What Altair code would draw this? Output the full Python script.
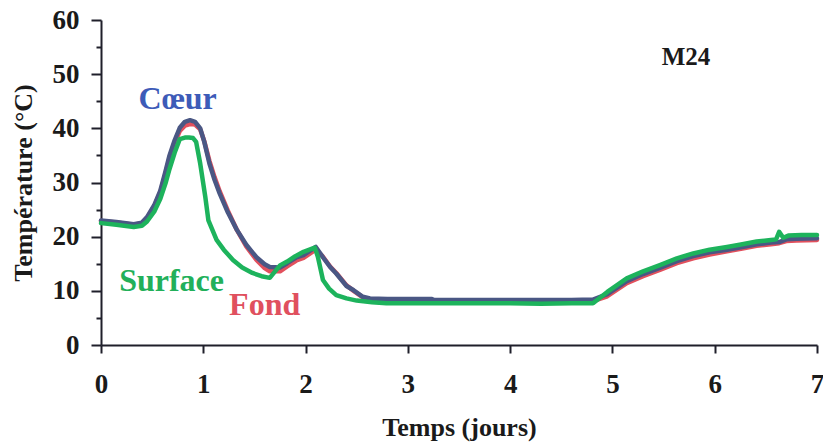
import altair as alt
import pandas as pd

# Temperature records (°C) over time (days) at three positions in the pile M24
coeur_t = [0, 0.15, 0.32, 0.4, 0.45, 0.52, 0.58, 0.63, 0.67, 0.72, 0.77, 0.82, 0.87, 0.92,
           0.97, 1.01, 1.06, 1.11, 1.16, 1.24, 1.33, 1.42, 1.52, 1.6, 1.65, 1.75, 1.82,
           1.91, 1.98, 2.1, 2.17, 2.24, 2.3, 2.4, 2.47, 2.56, 2.63, 2.8, 3.0, 3.23, 3.26,
           3.6, 4.0, 4.4, 4.6, 4.81, 4.95, 5.14, 5.3, 5.47, 5.63, 5.79, 5.95, 6.12, 6.27,
           6.41, 6.55, 6.63, 6.7, 6.8, 7.0]
coeur_v = [23.0, 22.7, 22.3, 22.6, 23.6, 25.8, 28.5, 32.0, 35.0, 37.8, 40.1, 41.2, 41.5, 41.2,
           40.0, 37.5, 33.5, 30.5, 28.0, 24.5, 21.2, 18.5, 16.2, 14.9, 14.4, 14.3, 15.1,
           16.2, 16.6, 18.1, 16.2, 14.4, 13.2, 10.9, 10.1, 8.9, 8.6, 8.5, 8.5, 8.5, 8.3,
           8.3, 8.3, 8.3, 8.3, 8.4, 9.4, 11.8, 13.1, 14.3, 15.5, 16.4, 17.1, 17.6, 18.1,
           18.6, 18.9, 19.0, 19.5, 19.6, 19.7]

fond_t = coeur_t
fond_v = [22.9, 22.6, 22.2, 22.5, 23.4, 25.6, 28.2, 31.6, 34.6, 37.3, 39.5, 40.5, 40.8, 40.7,
          39.8, 37.6, 34.0, 31.0, 28.4, 24.8, 21.2, 18.2, 15.7, 14.2, 13.6, 13.6, 14.5,
          15.6, 16.1, 17.6, 16.3, 14.5, 13.3, 11.0, 10.0, 8.8, 8.4, 8.3, 8.2, 8.2, 8.1,
          8.1, 8.1, 8.0, 8.0, 8.1, 9.0, 11.4, 12.7, 13.9, 15.1, 16.0, 16.7, 17.3, 17.8,
          18.3, 18.6, 18.8, 19.2, 19.3, 19.4]

surface_t = [0, 0.15, 0.32, 0.4, 0.45, 0.52, 0.58, 0.63, 0.67, 0.72, 0.77, 0.82, 0.86, 0.9,
             0.93, 0.97, 1.02, 1.05, 1.13, 1.2, 1.29, 1.38, 1.48, 1.57, 1.65, 1.75, 1.82,
             1.9, 1.98, 2.09, 2.12, 2.17, 2.23, 2.3, 2.4, 2.5, 2.65, 2.79, 3.0, 3.5, 4.0,
             4.3, 4.6, 4.81, 4.95, 5.14, 5.3, 5.47, 5.63, 5.79, 5.95, 6.12, 6.27, 6.41,
             6.55, 6.6, 6.63, 6.67, 6.72, 6.85, 7.0]
surface_v = [22.5, 22.2, 21.8, 22.0, 22.8, 24.6, 27.0, 29.8, 32.5, 35.5, 38.0, 38.3, 38.3, 38.2,
             37.5, 33.5, 27.3, 23.0, 19.4, 17.6, 15.7, 14.3, 13.3, 12.7, 12.4, 14.7, 15.4,
             16.4, 17.2, 18.0, 16.3, 12.0, 10.4, 9.2, 8.6, 8.2, 7.9, 7.7, 7.7, 7.7, 7.7,
             7.6, 7.7, 7.7, 9.8, 12.3, 13.6, 14.8, 16.0, 16.9, 17.6, 18.1, 18.6, 19.1,
             19.4, 19.5, 20.9, 19.8, 20.2, 20.3, 20.3]

series_names = ["Fond", "Cœur", "Surface"]
series_colors = ["#e2505d", "#4a5784", "#1db35c"]
series_data = [(fond_t, fond_v), (coeur_t, coeur_v), (surface_t, surface_v)]

# Inline labels: text, position (days, °C), colour
label_texts = ["Cœur", "Surface", "Fond"]
label_x = [0.75, 0.69, 1.6]
label_y = [45.5, 11.8, 7.4]
label_colors = ["#3d5bb8", "#22b05a", "#e0505e"]

panel_name = "M24"
panel_x = [5.72]
panel_y = [53.1]

FONT = "Liberation Serif"

x_scale = alt.Scale(domain=[0, 7], nice=False)
y_scale = alt.Scale(domain=[0, 60], nice=False)

x_axis = alt.Axis(
    title="Temps (jours)", values=list(range(0, 8)), format="d", labelFlush=False,
    labelFont=FONT, labelFontSize=27, labelFontWeight="bold", labelColor="#1a1a1a",
    labelPadding=18, tickSize=8, tickWidth=2, tickColor="#1f1f2a",
    domainColor="#1f1f2a", domainWidth=2, grid=False,
    titleFont=FONT, titleFontSize=26, titleFontWeight="bold", titleColor="#1a1a1a",
    titlePadding=17,
)
y_axis = alt.Axis(
    title="Température (°C)", values=list(range(0, 61, 5)), labelFlush=False,
    labelExpr="datum.value % 10 == 0 ? datum.label : ''",
    labelFont=FONT, labelFontSize=27, labelFontWeight="bold", labelColor="#1a1a1a",
    labelPadding=12, tickWidth=2, tickColor="#1f1f2a",
    tickSize={"condition": {"test": "datum.value % 10 == 0", "value": 10}, "value": 5},
    domainColor="#1f1f2a", domainWidth=2, grid=False,
    titleFont=FONT, titleFontSize=26, titleFontWeight="bold", titleColor="#1a1a1a",
    titlePadding=16,
)


def xy(xfield, yfield):
    return dict(
        x=alt.X(xfield, scale=x_scale, axis=x_axis),
        y=alt.Y(yfield, scale=y_scale, axis=y_axis),
    )


layers = []
for name, color, (ts, vs) in zip(series_names, series_colors, series_data):
    df = pd.DataFrame({"jours": ts, "temp": vs, "serie": name})
    layers.append(
        alt.Chart(df).mark_line(color=color, strokeWidth=4.5, strokeJoin="round",
                                strokeCap="round").encode(**xy("jours:Q", "temp:Q"))
    )

labels_df = pd.DataFrame({"txt": label_texts, "x": label_x, "y": label_y, "c": label_colors})
labels = alt.Chart(labels_df).mark_text(
    font=FONT, fontSize=32, fontWeight="bold", align="center", baseline="middle"
).encode(
    text="txt:N",
    color=alt.Color("c:N", scale=None),
    **xy("x:Q", "y:Q"),
)

panel_df = pd.DataFrame({"txt": [panel_name], "x": panel_x, "y": panel_y})
panel = alt.Chart(panel_df).mark_text(
    font=FONT, fontSize=25, fontWeight="bold", align="center", baseline="middle",
    color="#1a1a1a"
).encode(
    text="txt:N",
    **xy("x:Q", "y:Q"),
)

chart = alt.layer(*layers, labels, panel).properties(
    width=716, height=325,
    autosize=alt.AutoSizeParams(type="none"),
    padding={"left": 101, "top": 20, "right": 6, "bottom": 97},
    background="white",
).configure_view(stroke=None)

chart.save("out.html", embed_options={"renderer": "svg", "actions": False})
